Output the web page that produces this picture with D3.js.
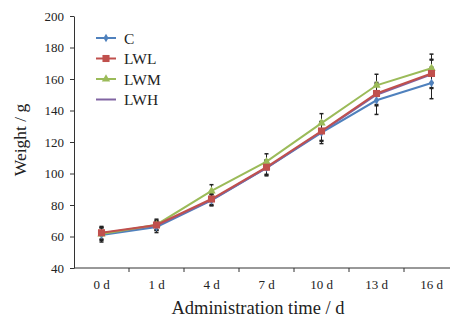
<!DOCTYPE html>
<html lang="en">
<head>
    <meta charset="UTF-8">
    <title>Weight vs administration time</title>
    <script src="https://d3js.org/d3.v7.min.js"></script>
    <style>
        body { margin: 0; background: #fff; }
        text { font-family: "Liberation Serif", "Times New Roman", serif; fill: #222; }
        .axis path, .axis line { stroke: #333; }
    </style>
</head>
<body>
    <svg id="chart" width="450" height="320"></svg>
    <script>
        var days = ["0 d", "1 d", "4 d", "7 d", "10 d", "13 d", "16 d"];
        var yTicks = [40, 60, 80, 100, 120, 140, 160, 180, 200];

        var valC   = [61.0, 66.0, 83.0, 103.5, 126.0, 146.5, 157.5];
        var valLWL = [62.4, 67.3, 83.8, 104.0, 127.0, 150.8, 163.5];
        var valLWM = [61.5, 67.5, 88.9, 107.5, 132.0, 156.0, 166.8];
        var valLWH = [62.0, 66.8, 83.2, 103.5, 126.5, 150.0, 163.0];

        var sdC   = [4.5, 3.5, 3.5, 5.0, 7.0, 9.0, 10.0];
        var sdLWL = [4.0, 3.0, 3.5, 4.5, 6.0, 7.0, 9.0];
        var sdLWM = [4.0, 3.5, 4.0, 5.0, 6.0, 7.0, 9.0];
        var sdLWH = [4.0, 3.0, 3.5, 4.5, 6.0, 7.0, 9.0];

        var series = [
            { name: "C",   values: valC,   sd: sdC,   color: "#4f81bd", marker: "diamond" },
            { name: "LWL", values: valLWL, sd: sdLWL, color: "#c0504d", marker: "square" },
            { name: "LWM", values: valLWM, sd: sdLWM, color: "#9bbb59", marker: "triangle" },
            { name: "LWH", values: valLWH, sd: sdLWH, color: "#8064a2", marker: null }
        ];

        var svg = d3.select("#chart");
        var plotLeft = 74, plotTop = 16, plotBottom = 268, bandW = 55;

        var x = d3.scaleBand()
            .domain(days)
            .range([plotLeft, plotLeft + bandW * days.length]);

        var y = d3.scaleLinear()
            .domain([40, 200])
            .range([plotBottom, plotTop]);

        // axes
        var xAxis = svg.append("g")
            .attr("class", "axis")
            .attr("transform", `translate(0,${plotBottom})`)
            .call(d3.axisBottom(x).tickSize(0).tickPadding(12));
        xAxis.selectAll("text")
            .style("font-size", "13px")
            .style("font-family", "Liberation Serif, serif")
            .attr("fill", "#333");
        // tick marks sit between categories
        xAxis.selectAll(".sep")
            .data(days)
            .enter().append("line")
            .attr("x1", d => x(d) + bandW)
            .attr("x2", d => x(d) + bandW)
            .attr("y1", 0).attr("y2", 4)
            .attr("stroke", "#333");
        xAxis.select(".domain").attr("d", `M${plotLeft},0H${plotLeft + bandW * days.length}`);

        var yAxis = svg.append("g")
            .attr("class", "axis")
            .attr("transform", `translate(${plotLeft},0)`)
            .call(d3.axisLeft(y).tickValues(yTicks).tickSize(4).tickSizeOuter(0).tickPadding(6));
        yAxis.selectAll("text")
            .style("font-size", "13px")
            .style("font-family", "Liberation Serif, serif")
            .attr("fill", "#333");

        // axis titles
        svg.append("text")
            .attr("x", 258).attr("y", 314)
            .attr("text-anchor", "middle")
            .style("font-size", "18.5px")
            .text("Administration time / d");

        svg.append("text")
            .attr("transform", "translate(26,140) rotate(-90)")
            .attr("text-anchor", "middle")
            .style("font-size", "17.5px")
            .text("Weight / g");

        var cx = d => x(d) + x.bandwidth() / 2;

        // error bars
        series.forEach(function (s) {
            var g = svg.append("g");
            days.forEach(function (d, i) {
                var y0 = y(s.values[i] - s.sd[i]), y1 = y(s.values[i] + s.sd[i]);
                g.append("line").attr("x1", cx(d)).attr("x2", cx(d))
                    .attr("y1", y0).attr("y2", y1)
                    .attr("stroke", "#222").attr("stroke-width", 1);
                [y0, y1].forEach(function (yy) {
                    g.append("line").attr("x1", cx(d) - 2).attr("x2", cx(d) + 2)
                        .attr("y1", yy).attr("y2", yy)
                        .attr("stroke", "#222").attr("stroke-width", 1.5);
                });
            });
        });

        var line = d3.line()
            .x((v, i) => cx(days[i]))
            .y(v => y(v));

        var symbols = { diamond: d3.symbolDiamond, square: d3.symbolSquare, triangle: d3.symbolTriangle };
        var sizes = { diamond: 22, square: 50, triangle: 30 };

        // draw LWH first so others sit over it, matching the picture
        [series[0], series[3], series[2], series[1]].forEach(function (s) {
            svg.append("path")
                .datum(s.values)
                .attr("fill", "none")
                .attr("stroke", s.color)
                .attr("stroke-width", 2)
                .attr("d", line);
            if (s.marker) {
                svg.append("g").selectAll("path")
                    .data(s.values)
                    .enter().append("path")
                    .attr("transform", (v, i) => `translate(${cx(days[i])},${y(v)})`)
                    .attr("d", d3.symbol().type(symbols[s.marker]).size(sizes[s.marker]))
                    .attr("fill", s.color);
            }
        });

        // legend
        var legend = svg.append("g").attr("transform", "translate(96,38)");
        series.forEach(function (s, i) {
            var row = legend.append("g").attr("transform", `translate(0,${i * 20.5})`);
            row.append("line").attr("x1", 0).attr("x2", 20)
                .attr("stroke", s.color).attr("stroke-width", 2);
            if (s.marker) {
                row.append("path")
                    .attr("transform", "translate(10,0)")
                    .attr("d", d3.symbol().type(symbols[s.marker]).size(sizes[s.marker]))
                    .attr("fill", s.color);
            }
            row.append("text")
                .attr("x", 28).attr("y", 5.5)
                .style("font-size", "15.5px")
                .text(s.name);
        });
    </script>
</body>
</html>
